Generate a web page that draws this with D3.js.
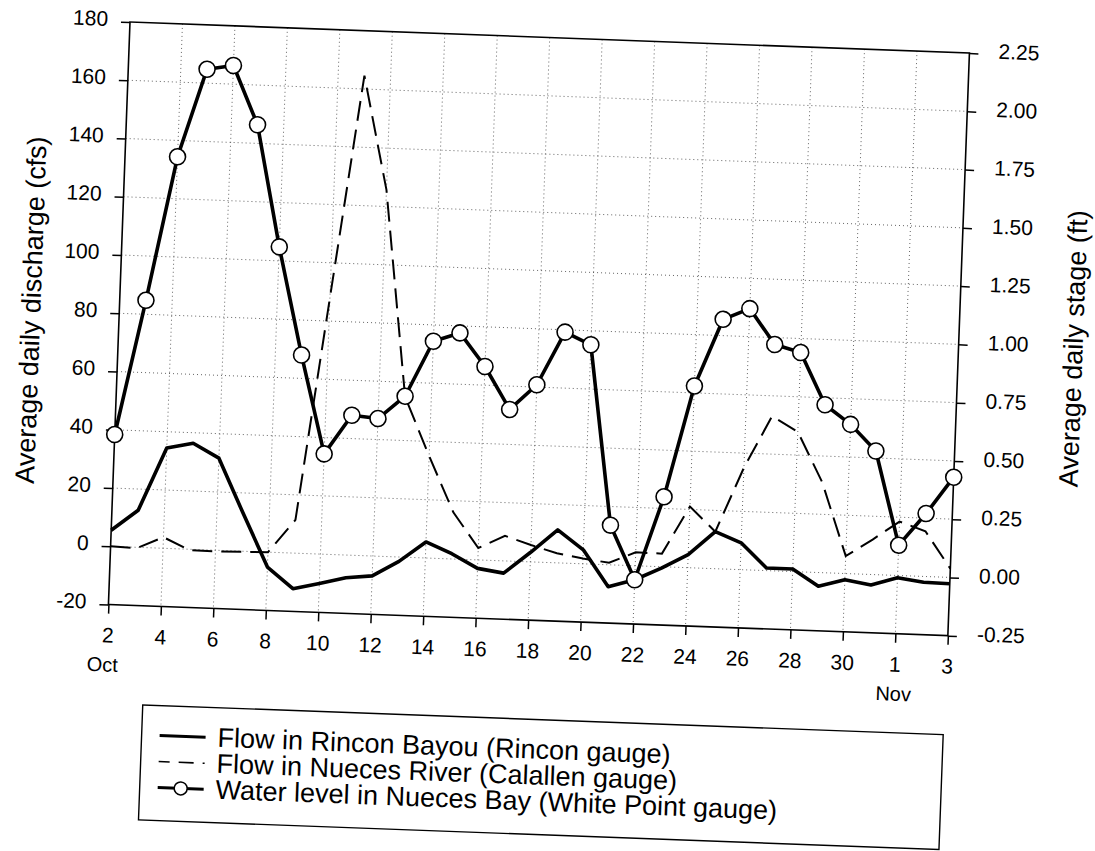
<!DOCTYPE html>
<html>
<head>
<meta charset="utf-8">
<script src="https://cdn.jsdelivr.net/npm/d3@7"></script>
<style>
  html, body { margin: 0; padding: 0; background: #fff; }
  svg { display: block; }
  text { font-family: "Liberation Sans", Arial, sans-serif; fill: #000; }
</style>
</head>
<body>
<svg id="chart" width="1095" height="851"></svg>
<script>
// ---- data (daily values, Oct 2 .. Nov 3) ----
const dayLabels = ["Oct 2","Oct 3","Oct 4","Oct 5","Oct 6","Oct 7","Oct 8","Oct 9","Oct 10","Oct 11",
  "Oct 12","Oct 13","Oct 14","Oct 15","Oct 16","Oct 17","Oct 18","Oct 19","Oct 20","Oct 21",
  "Oct 22","Oct 23","Oct 24","Oct 25","Oct 26","Oct 27","Oct 28","Oct 29","Oct 30","Oct 31",
  "Nov 1","Nov 2","Nov 3"];
// Flow in Rincon Bayou (cfs)
const rinconFlow = [5.5, 12.7, 34.4, 36.4, 31.6, 13, -5.1, -12.2, -10.1, -7.8, -6.8, -1.5, 5.5, 1.8,
  -2.9, -4.2, 3.3, 11.3, 4.8, -7.5, -4.8, -0.5, 4.5, 12.7, 9.2, 0.9, 0.9, -4.7, -2.1, -3.6, -0.8, -2.0, -2.2];
// Flow in Nueces River at Calallen (cfs)
const calallenFlow = [0, -0.3, 3.8, -0.3, -0.4, -0.2, 0, 11.4, 88, 164.6, 125.7, 55, 35, 16, 4.1,
  8.6, 5.8, 3.3, 1.8, 0.7, 4.6, 4.5, 21, 12.7, 35, 53, 48, 31, 6, 12, 18.5, 15.5, 3];
// Water level in Nueces Bay at White Point (ft)
const whitePointStage = [0.48, 1.06, 1.68, 2.06, 2.08, 1.83, 1.31, 0.85, 0.43, 0.60, 0.59, 0.69, 0.93,
  0.97, 0.83, 0.65, 0.76, 0.99, 0.94, 0.17, -0.06, 0.30, 0.78, 1.07, 1.12, 0.97, 0.94, 0.72, 0.64,
  0.53, 0.13, 0.27, 0.43];

const xTickIndex = [0,2,4,6,8,10,12,14,16,18,20,22,24,26,28,30,32];
const xTickLabels = ["2","4","6","8","10","12","14","16","18","20","22","24","26","28","30","1","3"];
const monthLabels = [{i:0, t:"Oct"}, {i:30, t:"Nov"}];
const leftTicks = [-20,0,20,40,60,80,100,120,140,160,180];
const rightTicks = [-0.25,0,0.25,0.5,0.75,1,1.25,1.5,1.75,2,2.25];
const legendLabels = ["Flow in Rincon Bayou (Rincon gauge)",
  "Flow in Nueces River (Calallen gauge)",
  "Water level in Nueces Bay (White Point gauge)"];

// ---- layout ----
const W = 840, H = 583;
const svg = d3.select("#chart");
const g = svg.append("g").attr("transform", "translate(130,22) rotate(2.12)");

const x = d3.scaleLinear().domain([0, 32]).range([0, W]);
const yL = d3.scaleLinear().domain([-20, 180]).range([H, 0]);
const yR = d3.scaleLinear().domain([-0.25, 2.25]).range([H, 0]);

// grid
const grid = g.append("g").attr("stroke", "#555").attr("stroke-width", 0.9).attr("stroke-dasharray", "1,3");
grid.selectAll("line.h").data(leftTicks.slice(1, -1)).enter().append("line")
  .attr("x1", 0).attr("x2", W).attr("y1", d => yL(d)).attr("y2", d => yL(d));
grid.selectAll("line.v").data(xTickIndex.slice(1, -1)).enter().append("line")
  .attr("y1", 0).attr("y2", H).attr("x1", d => x(d)).attr("x2", d => x(d));

// frame
g.append("rect").attr("x", 0).attr("y", 0).attr("width", W).attr("height", H)
  .attr("fill", "none").attr("stroke", "#000").attr("stroke-width", 1.6);

// axes
const axL = g.append("g").call(d3.axisLeft(yL).tickValues(leftTicks).tickSize(9).tickPadding(13).tickFormat(d => String(d)));
const axR = g.append("g").attr("transform", `translate(${W},0)`)
  .call(d3.axisRight(yR).tickValues(rightTicks).tickSize(9).tickPadding(20).tickFormat(d => d.toFixed(2)));
const axB = g.append("g").attr("transform", `translate(0,${H})`)
  .call(d3.axisBottom(x).tickValues(xTickIndex).tickSize(9).tickPadding(14).tickFormat((d, i) => xTickLabels[i]));
[axL, axR, axB].forEach(a => {
  a.select(".domain").remove();
  a.selectAll(".tick line").attr("stroke", "#000").attr("stroke-width", 1.5);
  a.selectAll(".tick text").attr("font-size", 21).attr("fill", "#000")
    .style("font-family", "'Liberation Sans', Arial, sans-serif");
});
axL.selectAll(".tick text").attr("dy", "0.2em");
axR.selectAll(".tick text").attr("dy", "0.2em");

g.selectAll("text.month").data(monthLabels).enter().append("text")
  .attr("x", d => x(d.i) + (d.i === 0 ? -4 : 0)).attr("y", H + 67)
  .attr("text-anchor", "middle").attr("font-size", 20).text(d => d.t);

// axis titles
g.append("text").attr("transform", `translate(-79,${H / 2}) rotate(-90)`)
  .attr("text-anchor", "middle").attr("font-size", 27).text("Average daily discharge (cfs)");
g.append("text").attr("transform", `translate(964,${H / 2}) rotate(-90)`)
  .attr("text-anchor", "middle").attr("font-size", 27).text("Average daily stage (ft)");

// series
const idx = d3.range(dayLabels.length);
const lineL = vals => d3.line().x(i => x(i)).y(i => yL(vals[i]));
const lineR = vals => d3.line().x(i => x(i)).y(i => yR(vals[i]));

g.append("path").attr("d", lineL(calallenFlow)(idx)).attr("fill", "none")
  .attr("stroke", "#000").attr("stroke-width", 2).attr("stroke-dasharray", "20,9");
g.append("path").attr("d", lineL(rinconFlow)(idx)).attr("fill", "none")
  .attr("stroke", "#000").attr("stroke-width", 3.6).attr("stroke-linejoin", "round");
g.append("path").attr("d", lineR(whitePointStage)(idx)).attr("fill", "none")
  .attr("stroke", "#000").attr("stroke-width", 3.6).attr("stroke-linejoin", "round");
g.selectAll("circle.wp").data(idx).enter().append("circle")
  .attr("cx", i => x(i)).attr("cy", i => yR(whitePointStage[i])).attr("r", 8)
  .attr("fill", "#fff").attr("stroke", "#000").attr("stroke-width", 1.6);

// legend
const lg = g.append("g").attr("transform", "translate(0,682)");
lg.append("rect").attr("x", 38).attr("y", 0).attr("width", 801).attr("height", 115)
  .attr("fill", "none").attr("stroke", "#000").attr("stroke-width", 1.4);
const rows = [39, 65, 91];
const sx1 = 56, sx2 = 102;
lg.append("line").attr("x1", sx1).attr("x2", sx2).attr("y1", rows[0] - 9).attr("y2", rows[0] - 9)
  .attr("stroke", "#000").attr("stroke-width", 3);
lg.append("line").attr("x1", sx1).attr("x2", sx2).attr("y1", rows[1] - 9).attr("y2", rows[1] - 9)
  .attr("stroke", "#000").attr("stroke-width", 1.6).attr("stroke-dasharray", "15,9").attr("stroke-dashoffset", 4);
lg.append("line").attr("x1", sx1).attr("x2", sx2).attr("y1", rows[2] - 9).attr("y2", rows[2] - 9)
  .attr("stroke", "#000").attr("stroke-width", 3);
lg.append("circle").attr("cx", (sx1 + sx2) / 2).attr("cy", rows[2] - 9).attr("r", 6.5)
  .attr("fill", "#fff").attr("stroke", "#000").attr("stroke-width", 1.5);
lg.selectAll("text.lt").data(legendLabels).enter().append("text")
  .attr("x", 114).attr("y", (d, i) => rows[i]).attr("font-size", 27).text(d => d);
</script>
</body>
</html>
